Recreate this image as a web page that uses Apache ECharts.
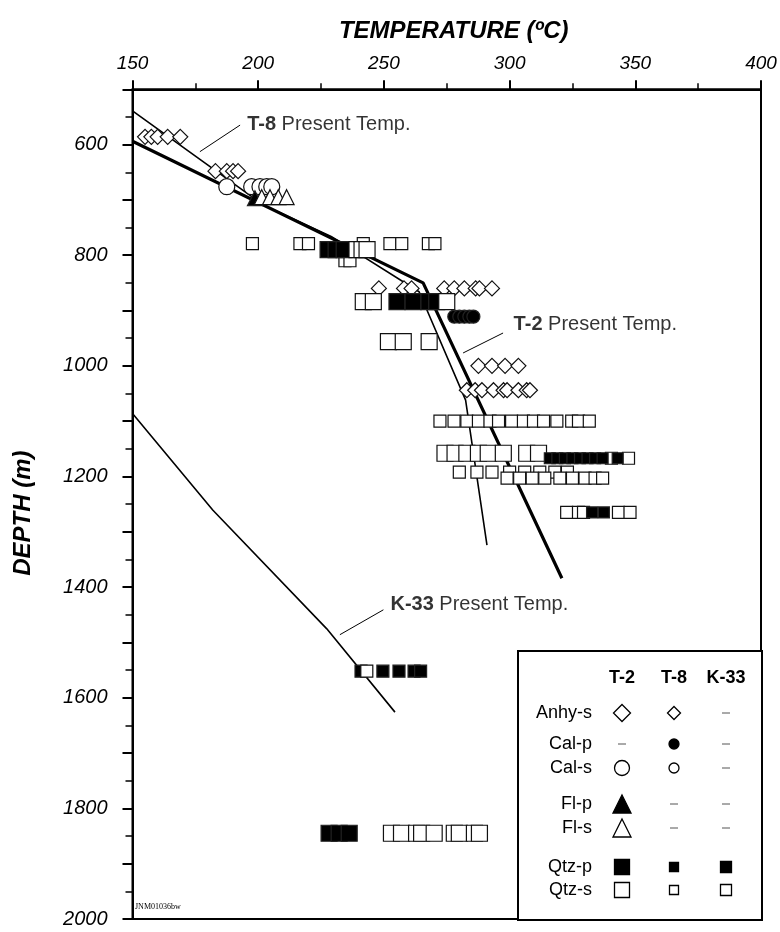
<!DOCTYPE html>
<html><head><meta charset="utf-8">
<script src="https://cdn.jsdelivr.net/npm/echarts@6/dist/echarts.min.js"></script>
<style>html,body{margin:0;padding:0;background:#fff}#c{width:780px;height:932px}</style>
</head><body><div id="c"></div>
<script>
// ---------------- data ----------------
const tempTickLabels = [150, 200, 250, 300, 350, 400];
const depthTickLabels = [600, 800, 1000, 1200, 1400, 1600, 1800, 2000];

// present-day temperature profiles [temperature °C, depth m]
const t2PresentTemp = [[150, 594], [265.6, 850], [320.8, 1384]];
const t8PresentTemp = [[150, 539], [202, 709], [229, 766], [264, 866], [282.5, 1062], [291, 1324]];
const k33PresentTemp = [[150, 1086], [182, 1261], [227.2, 1475], [254.4, 1626]];

// fluid-inclusion homogenization temperatures, grouped by sample depth
// each entry: [depth, [temperatures...]]
const t2AnhyS = [[860, [248, 258, 261, 274, 278, 282, 286.5, 288, 293]], [1000, [287.6, 293, 298.2, 303.5]], [1044, [283, 286.3, 289, 293.6, 297.6, 299, 303.5, 306.8, 308.1]]];
const t8AnhyS = [[586, [155, 157.5, 160, 164, 169]], [648, [183, 187.5, 190, 192]]];
const t8CalP = [[911, [278, 280, 282, 284, 285.6]]];
const t2CalS = [[676, [187.5, 197.4, 200.7, 203.4, 205.4]]];
const t2FlP = [[697, [198.7]]];
const t2FlS = [[695, [201.4, 204.7, 208, 211.3]]];
const t2QtzP = [[790, [227.8, 231, 234.2]], [884, [255.2, 261.6, 267.9, 271]], [1845, [228.2, 232.2, 236.2]]];
const t2QtzS = [[790, [239.3, 241.3, 243.3]], [884, [241.8, 245.8, 275]], [956, [251.8, 257.7, 268]], [1158, [274.3, 278.3, 283, 287.6, 291.5, 297.5, 306.8, 311.5]], [1845, [253, 257, 263, 265, 270, 278, 280, 286, 288]]];
const t8QtzP = [[1167, [316, 319, 322, 325, 328, 331, 334, 337, 343]], [1265, [332.8, 337.5]]];
const t8QtzS = [[779, [197.7, 216.6, 220, 241.8, 252.4, 257.1, 267.7, 270.3]], [810, [234.5, 236.5]], [1100, [272.3, 277.9, 283, 287.6, 292.2, 295.6, 300.8, 305.5, 309.5, 313.5, 318.8, 324.7, 327.4, 331.7]], [1167, [340.5, 347.3]], [1192, [280, 287, 293, 300, 306, 312, 318, 323]], [1203, [299, 304, 309, 314, 320, 325, 330, 334, 337]], [1265, [322.7, 327.4, 329.4, 343.3, 347.9]]];
const k33QtzP = [[1552, [240.9, 249.6, 256, 262, 264.6]]];
const k33QtzS = [[1552, [243.2]]];

// annotation anchors [temperature, depth] and leader lines
const annT8 = [[195.4, 563.6]];
const annT2 = [[301.4, 926]];
const annK33 = [[252.4, 1432]];
const leaderT8 = [[192.8, 564.7], [176.8, 612.8]];
const leaderT2 = [[297.4, 940.6], [281.5, 976.7]];
const leaderK33 = [[249.8, 1441], [232.5, 1486]];

// legend table
const legendCols = ['T-2', 'T-8', 'K-33'];
const legendRows = ['Anhy-s', 'Cal-p', 'Cal-s', 'Fl-p', 'Fl-s', 'Qtz-p', 'Qtz-s'];
const legendCells = [
  ['diamond:17:o', 'diamond:13:o', 'dash'],
  ['dash', 'circle:10:f', 'dash'],
  ['circle:15:o', 'circle:10:o', 'dash'],
  ['triangle:18:f', 'dash', 'dash'],
  ['triangle:18:o', 'dash', 'dash'],
  ['rect:15:f', 'rect:9:f', 'rect:11:f'],
  ['rect:15:o', 'rect:9:o', 'rect:11:o']
];

// ---------------- chart ----------------
const FONT = '"Liberation Sans", Arial, Helvetica, sans-serif';
const pairs = groups => groups.flatMap(([d, ts]) => ts.map(t => [t, d]));

function markerSeries(name, groups, symbol, size, filled) {
  return {
    name, type: 'scatter', data: pairs(groups), symbol, symbolSize: size,
    itemStyle: { color: filled ? '#000' : '#fff', borderColor: filled ? '#222' : '#111', borderWidth: 1.2, opacity: 1 },
    silent: true, z: 3
  };
}
function lineSeries(name, data, width) {
  return { name, type: 'line', data, showSymbol: false, symbol: 'none', lineStyle: { color: '#000', width }, silent: true, z: 2 };
}
function annSeries(data, bold, rest) {
  return {
    type: 'scatter', data, symbolSize: 1, itemStyle: { color: 'rgba(0,0,0,0)' }, silent: true, z: 4,
    label: { show: true, position: 'right', distance: 0, formatter: '{b|' + bold + '} ' + rest, color: '#000', fontSize: 20, fontFamily: FONT,
      rich: { b: { fontWeight: 'bold', fontSize: 20, fontFamily: FONT, color: '#000' } } }
  };
}

// legend graphic (table layout inside a framed box)
const LX = 517, LY = 650, LW = 244, LH = 269;
const colX = [104, 156, 208];
const headY = 27;
const rowY = [62, 93, 117, 153, 177, 216, 239];
const children = [{ type: 'rect', shape: { x: 0, y: 0, width: LW, height: LH }, style: { fill: '#fff', stroke: '#000', lineWidth: 2 } }];
legendCols.forEach((c, i) => children.push({ type: 'text', style: { text: c, x: colX[i], y: headY, textAlign: 'center', textVerticalAlign: 'middle', fontSize: 18, fontWeight: 'bold', fontFamily: FONT, fill: '#000' } }));
legendRows.forEach((r, j) => {
  children.push({ type: 'text', style: { text: r, x: 74, y: rowY[j], textAlign: 'right', textVerticalAlign: 'middle', fontSize: 18, fontFamily: FONT, fill: '#000' } });
  legendCells[j].forEach((spec, i) => {
    const cx = colX[i], cy = rowY[j];
    if (spec === 'dash') {
      children.push({ type: 'line', shape: { x1: cx - 4, y1: cy, x2: cx + 4, y2: cy }, style: { stroke: '#555', lineWidth: 1 } });
      return;
    }
    const [shape, s, f] = spec.split(':');
    const size = +s, h = size / 2;
    const style = { fill: f === 'f' ? '#000' : '#fff', stroke: '#000', lineWidth: 1.3 };
    if (shape === 'diamond') children.push({ type: 'polygon', shape: { points: [[cx, cy - h], [cx + h, cy], [cx, cy + h], [cx - h, cy]] }, style });
    else if (shape === 'circle') children.push({ type: 'circle', shape: { cx, cy, r: h }, style });
    else if (shape === 'triangle') children.push({ type: 'polygon', shape: { points: [[cx, cy - h], [cx + h, cy + h], [cx - h, cy + h]] }, style });
    else children.push({ type: 'rect', shape: { x: cx - h, y: cy - h, width: size, height: size }, style });
  });
});

const chart = echarts.init(document.getElementById('c'), null, { renderer: 'canvas' });
chart.setOption({
  animation: false,
  backgroundColor: '#fff',
  grid: { left: 132.5, top: 89.3, right: 19, bottom: 13, show: true, borderColor: '#000', borderWidth: 2, backgroundColor: 'rgba(0,0,0,0)' },
  xAxis: {
    type: 'value', position: 'top', min: 150, max: 400, interval: 50,
    axisLine: { show: true, onZero: false, lineStyle: { color: '#000', width: 2 } },
    axisTick: { show: true, length: 9, lineStyle: { color: '#000', width: 2 } },
    minorTick: { show: true, splitNumber: 2, length: 6, lineStyle: { color: '#000', width: 1.5 } },
    splitLine: { show: false }, minorSplitLine: { show: false },
    axisLabel: { fontSize: 19, fontStyle: 'italic', color: '#000', margin: 16, fontFamily: FONT,
      formatter: v => tempTickLabels.includes(v) ? String(v) : '' },
    name: 'TEMPERATURE (ºC)', nameLocation: 'middle', nameGap: 46,
    nameTextStyle: { fontSize: 24, fontWeight: 'bold', fontStyle: 'italic', color: '#000', fontFamily: FONT, padding: [0, 0, 0, 14] }
  },
  yAxis: {
    type: 'value', inverse: true, min: 500, max: 2000, interval: 100,
    axisLine: { show: true, onZero: false, lineStyle: { color: '#000', width: 2 } },
    axisTick: { show: true, length: 10, lineStyle: { color: '#000', width: 2 } },
    minorTick: { show: true, splitNumber: 2, length: 7, lineStyle: { color: '#000', width: 1.5 } },
    splitLine: { show: false }, minorSplitLine: { show: false },
    axisLabel: { fontSize: 20, fontStyle: 'italic', color: '#000', margin: 25, fontFamily: FONT,
      formatter: v => depthTickLabels.includes(v) ? String(v) : '' },
    name: 'DEPTH (m)', nameLocation: 'middle', nameGap: 97, nameRotate: 90,
    nameTextStyle: { fontSize: 24, fontWeight: 'bold', fontStyle: 'italic', color: '#000', fontFamily: FONT, padding: [0, 18, 0, 0] }
  },
  graphic: [
    { type: 'group', left: LX, top: LY, z: 10, children },
    { type: 'text', left: 135, top: 903, z: 10, style: { text: 'JNM01036bw', fontSize: 8, fontFamily: '"Liberation Serif", serif', fill: '#000' } }
  ],
  series: [
    lineSeries('K-33 Present Temp.', k33PresentTemp, 1.6),
    lineSeries('T-8 Present Temp.', t8PresentTemp, 1.6),
    lineSeries('T-2 Present Temp.', t2PresentTemp, 3.2),
    lineSeries('leader T-8', leaderT8, 1),
    lineSeries('leader T-2', leaderT2, 1),
    lineSeries('leader K-33', leaderK33, 1),
    markerSeries('T-8 Anhy-s', t8AnhyS, 'diamond', 15, false),
    markerSeries('T-2 Anhy-s', t2AnhyS, 'diamond', 15, false),
    markerSeries('T-2 Cal-s', t2CalS, 'circle', 16, false),
    markerSeries('T-2 Fl-p', t2FlP, 'triangle', 15, true),
    markerSeries('T-2 Fl-s', t2FlS, 'triangle', 15, false),
    markerSeries('T-8 Qtz-s', t8QtzS, 'rect', 12, false),
    markerSeries('T-2 Qtz-p', t2QtzP, 'rect', 16, true),
    markerSeries('T-2 Qtz-s', t2QtzS, 'rect', 16, false),
    markerSeries('T-8 Qtz-p', t8QtzP, 'rect', 11, true),
    markerSeries('T-8 Cal-p', t8CalP, 'circle', 13, true),
    markerSeries('K-33 Qtz-p', k33QtzP, 'rect', 12, true),
    markerSeries('K-33 Qtz-s', k33QtzS, 'rect', 12, false),
    annSeries(annT8, 'T-8', 'Present Temp.'),
    annSeries(annT2, 'T-2', 'Present Temp.'),
    annSeries(annK33, 'K-33', 'Present Temp.')
  ]
});
</script></body></html>
